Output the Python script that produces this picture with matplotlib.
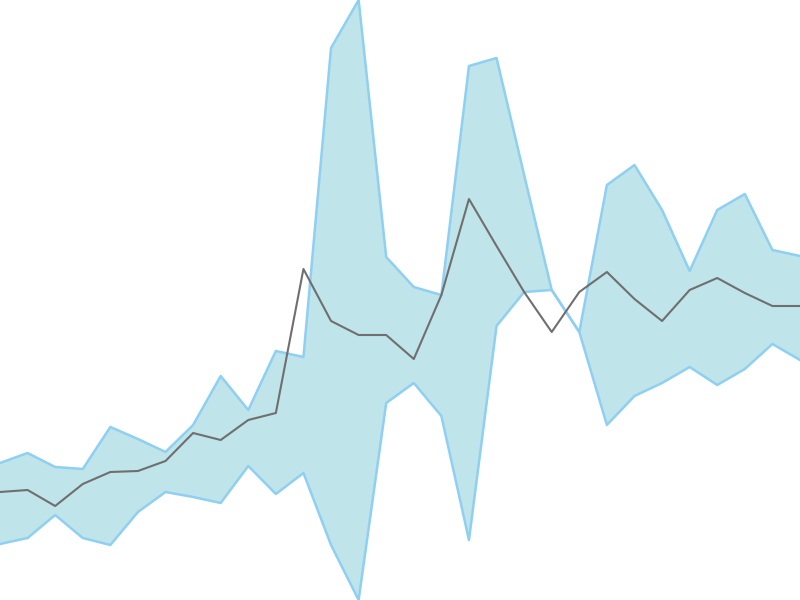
import matplotlib
matplotlib.use("Agg")
import matplotlib.pyplot as plt
import numpy as np

# valores (escala arbitraria, 0 = base, 600 = topo)
upper = [137, 147, 133, 131, 173, 161, 148, 175, 224, 190, 249, 243, 552, 600,
         343, 313, 305, 534, 542, 425, 310, 268, 415, 435, 390, 329, 390, 406,
         350, 344]
lower = [56, 62, 85, 62, 55, 88, 108, 103, 97, 134, 106, 127, 55, 0,
         197, 217, 184, 60, 274, 308, 310, 268, 175, 204, 217, 233, 215, 231,
         256, 240]
media = [108, 110, 94, 116, 128, 129, 139, 167, 160, 180, 187, 331, 279, 265,
         265, 241, 305, 401, 354, 308, 268, 308, 328, 301, 279, 310, 322, 307,
         294, 294]

x = np.arange(len(media))

fig = plt.figure(figsize=(8, 6), dpi=100)
ax = fig.add_axes([0, 0, 1, 1])

ax.fill_between(x, lower, upper, color="#bfe4ea", linewidth=0)
ax.plot(x, upper, color="#8fd0f2", linewidth=1.8)
ax.plot(x, lower, color="#8fd0f2", linewidth=1.8)
ax.plot(x, media, color="#6f6f6f", linewidth=1.5)

ax.set_xlim(x[0], x[-1])
ax.set_ylim(min(lower), max(upper))
ax.axis("off")

fig.savefig("out.png", dpi=100)
